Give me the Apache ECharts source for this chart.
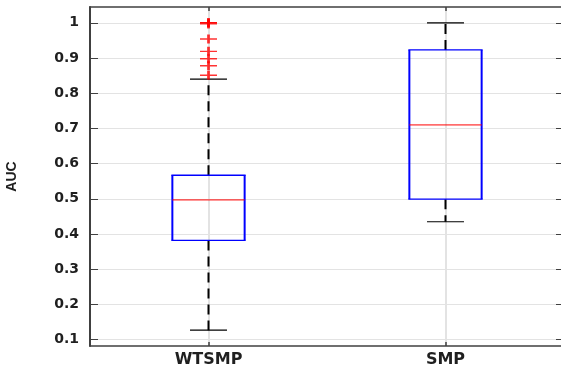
<!DOCTYPE html>
<html>
<head>
<meta charset="utf-8">
<script src="https://cdn.jsdelivr.net/npm/echarts@6/dist/echarts.min.js"></script>
<style>
html,body{margin:0;padding:0;background:#fff;}
#chart{width:561px;height:369px;}
</style>
</head>
<body>
<div id="chart"></div>
<script>
// ---- data ----
const categories = ['WTSMP', 'SMP'];
// [lower whisker, Q1, median, Q3, upper whisker]
const wtsmpBox = [0.127, 0.382, 0.497, 0.567, 0.840];
const smpBox = [0.435, 0.499, 0.710, 0.923, 1.000];
const wtsmpOutliers = [1.000, 1.000, 0.997, 0.954, 0.919, 0.898, 0.878, 0.851];
const smpOutliers = [];
const yTicks = [0.1, 0.2, 0.3, 0.4, 0.5, 0.6, 0.7, 0.8, 0.9, 1];
const yMin = 0.082, yMax = 1.045;

const boxes = [wtsmpBox, smpBox];
const boxData = boxes.map((b, i) => [i + 1].concat(b));
const outlierData = [];
[wtsmpOutliers, smpOutliers].forEach((arr, i) => arr.forEach(v => outlierData.push([i + 1, v])));
const xTicks = categories.map((c, i) => i + 1);

const axisColor = '#404040';
const gridColor = '#e3e3e3';
const textColor = '#1f1f1f';

const chart = echarts.init(document.getElementById('chart'), null, {renderer: 'canvas'});
chart.setOption({
  animation: false,
  backgroundColor: '#ffffff',
  grid: {left: 90, top: 7, width: 474, height: 339, containLabel: false, outerBoundsMode: 'none'},
  xAxis: [{
    type: 'value', min: 0.5, max: 2.5, position: 'bottom',
    axisLine: {show: true, lineStyle: {color: axisColor, width: 1.5}},
    axisTick: {show: true, inside: true, length: 4, customValues: xTicks, lineStyle: {color: axisColor, width: 1.5}},
    axisLabel: {customValues: xTicks, formatter: v => categories[Math.round(v) - 1] || '',
      fontFamily: 'DejaVu Sans', fontWeight: 'bold', fontSize: 16, color: textColor, margin: 6},
    splitLine: {show: true, lineStyle: {color: gridColor, width: 2}}
  }, {
    type: 'value', min: 0.5, max: 2.5, position: 'top',
    axisLine: {show: true, lineStyle: {color: axisColor, width: 1.5}},
    axisTick: {show: true, inside: true, length: 4, customValues: xTicks, lineStyle: {color: axisColor, width: 1.5}},
    axisLabel: {show: false},
    splitLine: {show: false}
  }],
  yAxis: [{
    type: 'value', min: yMin, max: yMax, position: 'left',
    name: 'AUC', nameLocation: 'middle', nameRotate: 90, nameGap: 71,
    nameTextStyle: {fontFamily: 'Liberation Sans', fontWeight: 'bold', fontSize: 14, color: textColor},
    axisLine: {show: true, lineStyle: {color: axisColor, width: 2}},
    axisTick: {show: true, inside: true, length: 8, customValues: yTicks, lineStyle: {color: axisColor, width: 1}},
    axisLabel: {customValues: yTicks, fontFamily: 'DejaVu Sans', fontWeight: 'bold', fontSize: 14, color: textColor, margin: 11},
    splitLine: {show: true, lineStyle: {color: gridColor, width: 1}}
  }, {
    type: 'value', min: yMin, max: yMax, position: 'right',
    axisLine: {show: true, lineStyle: {color: axisColor, width: 2}},
    axisTick: {show: true, inside: true, length: 8, customValues: yTicks, lineStyle: {color: axisColor, width: 1}},
    axisLabel: {show: false},
    splitLine: {show: false}
  }],
  series: [{
    type: 'custom',
    xAxisIndex: 0, yAxisIndex: 0,
    data: boxData,
    renderItem: function (params, api) {
      const x = api.value(0);
      const lo = api.coord([x, api.value(1)]);
      const q1 = api.coord([x, api.value(2)]);
      const md = api.coord([x, api.value(3)]);
      const q3 = api.coord([x, api.value(4)]);
      const hi = api.coord([x, api.value(5)]);
      const unit = api.size([1, 0])[0];
      const bw = unit * 0.305, cw = unit * 0.156;
      const cx = lo[0];
      const L = cx - bw / 2, R = cx + bw / 2;
      const blue = '#0000ff';
      const line = (x1, y1, x2, y2, style) => ({type: 'line', shape: {x1, y1, x2, y2}, style});
      return {
        type: 'group',
        children: [
          line(cx, q3[1], cx, hi[1], {stroke: '#000', lineWidth: 2, lineDash: [10, 6]}),
          line(cx, q1[1], cx, lo[1], {stroke: '#000', lineWidth: 2, lineDash: [10, 6]}),
          line(cx - cw / 2, hi[1], cx + cw / 2, hi[1], {stroke: '#000', lineWidth: 1.2}),
          line(cx - cw / 2, lo[1], cx + cw / 2, lo[1], {stroke: '#000', lineWidth: 1.2}),
          line(L, q1[1], L, q3[1], {stroke: blue, lineWidth: 2}),
          line(R, q1[1], R, q3[1], {stroke: blue, lineWidth: 2}),
          line(L - 1, q1[1], R + 1, q1[1], {stroke: blue, lineWidth: 1.3}),
          line(L - 1, q3[1], R + 1, q3[1], {stroke: blue, lineWidth: 1.3}),
          line(L, md[1], R, md[1], {stroke: '#ff0000', lineWidth: 1})
        ]
      };
    }
  }, {
    type: 'scatter',
    xAxisIndex: 0, yAxisIndex: 0,
    data: outlierData,
    symbol: 'path://M0,5L10,5M5,0L5,10',
    symbolSize: [17, 9],
    symbolKeepAspect: false,
    itemStyle: {color: 'none', borderColor: '#ff0000', borderWidth: 2},
    z: 5
  }]
});
</script>
</body>
</html>
